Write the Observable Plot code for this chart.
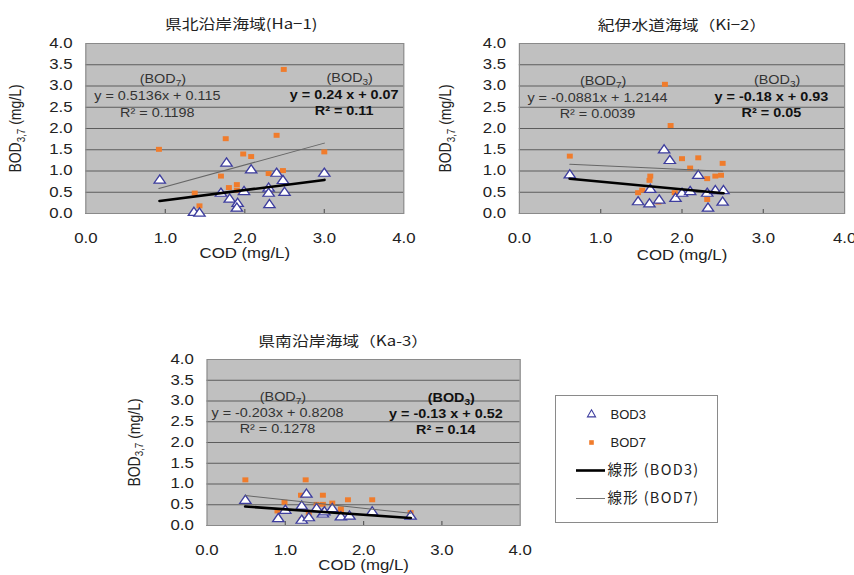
<!DOCTYPE html>
<html><head><meta charset="utf-8">
<script src="https://cdn.jsdelivr.net/npm/d3@7"></script>
<script src="https://cdn.jsdelivr.net/npm/@observablehq/plot@0.6"></script>
<style>
html,body{margin:0;padding:0;background:#fff}
body{width:854px;height:575px;overflow:hidden;position:relative;font-family:"Liberation Sans",Arial,sans-serif}
.panel{position:absolute;transform:scaleX(1.2);transform-origin:0 0}
.legend{position:absolute}
</style></head><body>
<div id="p1" class="panel" style="left:0px;top:0px"></div>
<div id="p2" class="panel" style="left:430px;top:0px"></div>
<div id="p3" class="panel" style="left:120px;top:290px"></div>
<div id="lg" class="legend" style="left:555px;top:395px"></div>
<script>
// ---- axis ticks ----
const xTicks = [0, 1, 2, 3, 4];
const yTicks = [0, 0.5, 1, 1.5, 2, 2.5, 3, 3.5, 4];
const xLabel = "COD (mg/L)";
const yLabel = "BOD_{3,7} (mg/L)";

// ---- 県北沿岸海域 (Ha-1) ----
const ha1Title = "県北沿岸海域(Ha−1)";
const ha1Cod3 = [0.93, 1.36, 1.43, 1.70, 1.77, 1.81, 1.91, 1.90, 1.99, 2.08, 2.30, 2.30, 2.31, 2.40, 2.48, 2.50, 3.00];
const ha1Bod3 = [0.78, 0.02, 0.00, 0.47, 1.18, 0.33, 0.23, 0.12, 0.51, 1.02, 0.59, 0.47, 0.20, 0.94, 0.77, 0.49, 0.94];
const ha1Cod7 = [0.92, 1.37, 1.43, 1.70, 1.76, 1.80, 1.90, 1.90, 1.98, 2.08, 2.30, 2.31, 2.40, 2.48, 2.49, 3.00];
const ha1Bod7 = [1.51, 0.48, 0.18, 0.88, 1.76, 0.61, 0.68, 0.55, 1.40, 1.34, 0.94, 0.53, 1.84, 1.01, 3.39, 1.45];
const ha1Trend3 = [0.24, 0.07];
const ha1Trend7 = [0.5136, 0.115];
const ha1Text3 = ["(BOD_{3})", "y = 0.24 x + 0.07", "R² = 0.11"];
const ha1Text7 = ["(BOD_{7})", "y = 0.5136x + 0.115", "R² = 0.1198"];

// ---- 紀伊水道海域 (Ki-2) ----
const ki2Title = "紀伊水道海域（Ki−2）";
const ki2Cod3 = [0.62, 1.46, 1.60, 1.61, 1.72, 1.78, 1.85, 1.92, 2.00, 2.10, 2.20, 2.31, 2.32, 2.41, 2.50, 2.51];
const ki2Bod3 = [0.90, 0.27, 0.22, 0.56, 0.31, 1.49, 1.24, 0.35, 0.47, 0.51, 0.89, 0.47, 0.12, 0.53, 0.26, 0.53];
const ki2Cod7 = [0.62, 1.46, 1.51, 1.60, 1.61, 1.71, 1.79, 1.86, 1.91, 2.00, 2.10, 2.20, 2.31, 2.31, 2.41, 2.48, 2.50];
const ki2Bod7 = [1.35, 0.49, 0.55, 0.78, 0.88, 0.27, 3.04, 2.07, 0.49, 1.29, 1.07, 1.31, 0.82, 0.33, 0.88, 0.90, 1.18];
const ki2Trend3 = [-0.18, 0.93];
const ki2Trend7 = [-0.0881, 1.2144];
const ki2Text3 = ["(BOD_{3})", "y = -0.18 x + 0.93", "R² = 0.05"];
const ki2Text7 = ["(BOD_{7})", "y = -0.0881x + 1.2144", "R² = 0.0039"];

// ---- 県南沿岸海域 (Ka-3) ----
const ka3Title = "県南沿岸海域（Ka-3）";
const ka3Cod3 = [0.49, 0.91, 1.00, 1.21, 1.21, 1.27, 1.30, 1.40, 1.48, 1.50, 1.60, 1.71, 1.82, 2.11, 2.60];
const ka3Bod3 = [0.60, 0.16, 0.36, 0.46, 0.12, 0.75, 0.18, 0.40, 0.27, 0.32, 0.40, 0.20, 0.22, 0.32, 0.22];
const ka3Cod7 = [0.49, 0.90, 0.99, 1.20, 1.21, 1.26, 1.30, 1.40, 1.48, 1.48, 1.50, 1.60, 1.71, 1.71, 1.80, 2.11, 2.60];
const ka3Bod7 = [1.10, 0.35, 0.56, 0.73, 0.14, 1.10, 0.30, 0.51, 0.73, 0.51, 0.30, 0.54, 0.40, 0.32, 0.62, 0.62, 0.31];
const ka3Trend3 = [-0.13, 0.52];
const ka3Trend7 = [-0.203, 0.8208];
const ka3Text3 = ["(BOD_{3})", "y = -0.13 x + 0.52", "R² = 0.14"];
const ka3Text7 = ["(BOD_{7})", "y = -0.203x + 0.8208", "R² = 0.1278"];

// ---- legend ----
const legendItems = ["BOD3", "BOD7", "線形 (BOD3)", "線形 (BOD7)"];

const LATIN = '"Liberation Sans", Arial, sans-serif';
const CJK = '"Noto Sans CJK JP", "Liberation Sans", sans-serif';
const ORANGE = "#f07c2c";
const TRI = "#3d3d9e";

function subs(svg) {
  const ns = "http://www.w3.org/2000/svg";
  svg.querySelectorAll("text").forEach(t => {
    const s = t.textContent;
    if (!s.includes("_{")) return;
    t.textContent = "";
    let shifted = false;
    for (const p of s.split(/(_\{[^}]*\})/)) {
      if (!p) continue;
      const ts = document.createElementNS(ns, "tspan");
      if (p.startsWith("_{")) {
        ts.textContent = p.slice(2, -1);
        ts.setAttribute("font-size", "70%");
        ts.setAttribute("dy", "3");
        shifted = true;
      } else {
        ts.textContent = p;
        if (shifted) { ts.setAttribute("dy", "-3"); shifted = false; }
      }
      t.appendChild(ts);
    }
  });
  return svg;
}

function panel(c) {
  const pts3 = c.cod3.map((x, i) => ({x, y: c.bod3[i]}));
  const pts7 = c.cod7.map((x, i) => ({x, y: c.bod7[i]}));
  const fit = (xs, [a, b]) => d3.extent(xs).map(x => ({x, y: a * x + b}));
  const fh = c.h - c.mt - c.mb;
  const normal = {fontFamily: LATIN, fontSize: 12, fill: "#333", textAnchor: "middle"};
  const bold = {fontFamily: LATIN, fontSize: 12, fill: "#111", fontWeight: "bold", textAnchor: "middle"};
  const svg = Plot.plot({
    width: c.w, height: c.h,
    marginLeft: c.ml, marginRight: c.mr, marginTop: c.mt, marginBottom: c.mb,
    style: {fontFamily: LATIN, fontSize: "14px", color: "#222", background: "transparent", overflow: "visible", maxWidth: "none"},
    x: {domain: [0, 4]},
    y: {domain: [0, 4]},
    marks: [
      Plot.frame({fill: "#c0c0c0"}),
      Plot.ruleY(yTicks.slice(0, -1), {stroke: "#5c5c5c", strokeWidth: 1}),
      Plot.frame({stroke: "#8a8a8a"}),
      Plot.ruleX(xTicks.slice(1, -1), {stroke: "#5c5c5c", insetTop: fh - 4}),
      Plot.axisX({ticks: xTicks, tickFormat: d3.format(".1f"), tickSize: 0, tickPadding: 20, fontSize: 14, fill: "#222",
        label: xLabel, labelAnchor: "center", labelArrow: "none", labelOffset: c.xlo}),
      Plot.axisY({ticks: yTicks, tickFormat: d3.format(".1f"), tickSize: 0, tickPadding: 11, fontSize: 14, fill: "#222",
        label: yLabel, labelAnchor: "center", labelArrow: "none", labelOffset: c.ylo}),
      Plot.dot(pts7, {x: "x", y: "y", symbol: "square", r: 2.8, fill: ORANGE}),
      Plot.dot(pts3, {x: "x", y: "y", symbol: "triangle", r: 3.5, fill: "white", stroke: TRI, strokeWidth: 1.2}),
      Plot.line(fit(c.cod7, c.t7), {x: "x", y: "y", stroke: "#666", strokeWidth: 1}),
      Plot.line(fit(c.cod3, c.t3), {x: "x", y: "y", stroke: "#000", strokeWidth: 2.6}),
      Plot.text([c.title], {frameAnchor: "top", dx: c.tdx, dy: c.tdy, fontFamily: CJK, fontSize: 14, fill: "#222"}),
      Plot.text([c.txt7[0]], {x: () => c.a7[0], y: () => c.a7[1], ...normal}),
      Plot.text([c.txt7[1]], {x: () => c.a7[0] - 0.07, y: () => c.a7[1] - 0.4, ...normal}),
      Plot.text([c.txt7[2]], {x: () => c.a7[0] - 0.07, y: () => c.a7[1] - 0.78, ...normal}),
      Plot.text([c.txt3[0]], {x: () => c.a3[0], y: () => c.a3[1], ...(c.boldHead ? bold : normal)}),
      Plot.text([c.txt3[1]], {x: () => c.a3[0] - 0.07, y: () => c.a3[1] - 0.4, ...bold}),
      Plot.text([c.txt3[2]], {x: () => c.a3[0] - 0.07, y: () => c.a3[1] - 0.78, ...bold})
    ]
  });
  return subs(svg);
}

document.getElementById("p1").appendChild(panel({
  w: 358, h: 270, ml: 71, mr: 22, mt: 43, mb: 57, xlo: 44, ylo: 64, tdx: -3, tdy: -24.5,
  title: ha1Title, cod3: ha1Cod3, bod3: ha1Bod3, cod7: ha1Cod7, bod7: ha1Bod7,
  t3: ha1Trend3, t7: ha1Trend7, txt3: ha1Text3, txt7: ha1Text7,
  a7: [0.97, 3.15], a3: [3.32, 3.18], boldHead: false
}));
document.getElementById("p2").appendChild(panel({
  w: 353, h: 270, ml: 74, mr: 8, mt: 43, mb: 57, xlo: 46, ylo: 67, tdx: 0, tdy: -23,
  title: ki2Title, cod3: ki2Cod3, bod3: ki2Bod3, cod7: ki2Cod7, bod7: ki2Bod7,
  t3: ki2Trend3, t7: ki2Trend7, txt3: ki2Text3, txt7: ki2Text7,
  a7: [1.03, 3.12], a3: [3.17, 3.13], boldHead: false
}));
document.getElementById("p3").appendChild(panel({
  w: 360, h: 285, ml: 72, mr: 27, mt: 69, mb: 50, xlo: 44, ylo: 66, tdx: -17, tdy: -23,
  title: ka3Title, cod3: ka3Cod3, bod3: ka3Bod3, cod7: ka3Cod7, bod7: ka3Bod7,
  t3: ka3Trend3, t7: ka3Trend7, txt3: ka3Text3, txt7: ka3Text7,
  a7: [0.97, 3.1], a3: [3.12, 3.08], boldHead: true
}));

// ---- legend ----
const lg = Plot.plot({
  width: 162, height: 127, margin: 0,
  style: {background: "white", overflow: "visible", maxWidth: "none"},
  x: {domain: [0, 1], axis: null},
  y: {type: "point", domain: legendItems, range: [18, 103], padding: 0, axis: null},
  marks: [
    Plot.frame({stroke: "#8a8a8a"}),
    Plot.dot([legendItems[0]], {y: d => d, frameAnchor: "left", dx: 36, symbol: "triangle", r: 3, fill: "white", stroke: TRI, strokeWidth: 1.1}),
    Plot.dot([legendItems[1]], {y: d => d, frameAnchor: "left", dx: 36, symbol: "square", r: 2.6, fill: ORANGE}),
    Plot.ruleY([legendItems[2]], {y: d => d, insetLeft: 21, insetRight: 112, stroke: "#000", strokeWidth: 2.6}),
    Plot.ruleY([legendItems[3]], {y: d => d, insetLeft: 21, insetRight: 112, stroke: "#777", strokeWidth: 1}),
    Plot.text(legendItems.slice(0, 2), {y: d => d, text: d => d, frameAnchor: "left", dx: 55, textAnchor: "start", fontFamily: LATIN, fontSize: 13, fill: "#222"}),
    Plot.text(legendItems.slice(2), {y: d => d, text: d => d, frameAnchor: "left", dx: 52, textAnchor: "start", fontFamily: CJK, fontSize: 14.5, fill: "#222"})
  ]
});
lg.querySelectorAll("text").forEach(t => { if (t.textContent.startsWith("線形")) t.setAttribute("letter-spacing", "1.3"); });
document.getElementById("lg").appendChild(lg);
</script>
</body></html>
